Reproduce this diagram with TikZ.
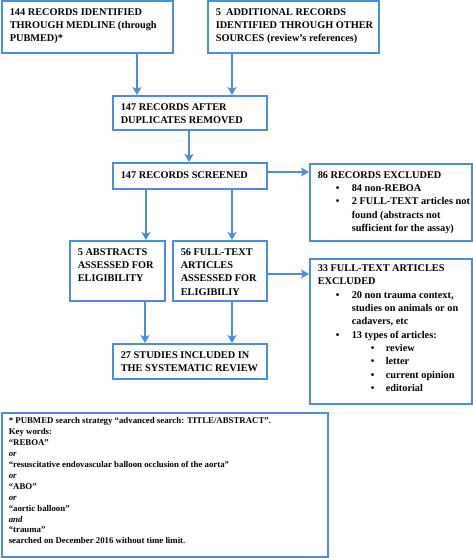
\documentclass[tikz,border=0pt]{standalone}
\usepackage{fontspec}
\setmainfont{Liberation Serif}
\usetikzlibrary{arrows.meta}
\definecolor{bl}{RGB}{74,140,226}
\newcommand\bx[4]{\makebox[#1][l]{\parbox[c][#2][t]{200pt}{\vspace*{#3}\raggedright\strut #4}}}
\newcommand\fx[4]{\makebox[#1][l]{\parbox[c][#2][t]{#1}{\vspace*{#3}\raggedright\strut #4}}}
\newcommand\bitem[1]{\par\hangindent=34pt\hangafter=1\noindent\makebox[34pt][l]{\hspace{18pt}\textbullet}#1}
\newcommand\sitem[1]{\par\hangindent=68pt\hangafter=1\noindent\makebox[68pt][l]{\hspace{53pt}\textbullet}#1}
\begin{document}
\begin{tikzpicture}[x=1pt,y=-1pt,
  box/.style={draw=bl, line width=1.6pt, inner xsep=8pt, inner ysep=0pt, anchor=north west,
    font=\bfseries\fontsize{10.3}{13.3}\selectfont},
  note/.style={draw=bl, line width=1.6pt, inner xsep=7pt, inner ysep=0pt, anchor=north west,
    font=\bfseries\fontsize{8.8}{10.95}\selectfont},
  arr/.style={draw=bl, line width=2.4pt, -{Stealth[length=8pt,width=9pt,inset=2pt]}}]
\useasboundingbox (0,0) rectangle (473,558);
\node[box] (b1) at (1,0) {\bx{155pt}{52pt}{5pt}{144 RECORDS IDENTIFIED\\THROUGH MEDLINE (through\\PUBMED)*}};
\node[box] (b2) at (207,0) {\bx{155pt}{52pt}{5pt}{5~ ADDITIONAL RECORDS\\IDENTIFIED THROUGH OTHER\\SOURCES (review’s references)}};
\node[box] (b3) at (112,95) {\bx{138pt}{34pt}{5pt}{147 RECORDS AFTER\\DUPLICATES REMOVED}};
\node[box] (b4) at (112,162) {\bx{138pt}{26pt}{6pt}{147 RECORDS SCREENED}};
\node[box] (b5) at (309,163) {\bx{146pt}{77pt}{5pt}{86 RECORDS EXCLUDED
  \bitem{84 non-REBOA}
  \bitem{2 FULL-TEXT articles not\newline found (abstracts not\newline sufficient for the assay)}}};
\node[box] (b6) at (69,240) {\bx{79pt}{60pt}{5pt}{5 ABSTRACTS\\ASSESSED FOR\\ELIGIBILITY}};
\node[box] (b7) at (172,240) {\bx{78pt}{60pt}{5pt}{56 FULL-TEXT\\ARTICLES\\ASSESSED FOR\\ELIGIBILIY}};
\node[box] (b8) at (309,258) {\bx{146pt}{145pt}{3.5pt}{33 FULL-TEXT ARTICLES\\EXCLUDED
  \bitem{20 non trauma context,\newline studies on animals or on\newline cadavers, etc}
  \bitem{13 types of articles:}
  \sitem{review}
  \sitem{letter}
  \sitem{current opinion}
  \sitem{editorial}}};
\node[box] (b9) at (112,343) {\bx{138pt}{35pt}{5pt}{27 STUDIES INCLUDED IN\\THE SYSTEMATIC REVIEW}};
\node[note] (b10) at (1,412) {\fx{312pt}{144pt}{3pt}{* PUBMED search strategy “advanced search: TITLE/ABSTRACT”.\\
Key words:\\
“REBOA”\\
\textit{or}\\
“resuscitative endovascular balloon occlusion of the aorta”\\
\textit{or}\\
“ABO”\\
\textit{or}\\
“aortic balloon”\\
\textit{and}\\
“trauma”\\
searched on December 2016 without time limit.}};
\draw[arr] (137,0 |- b1.south) -- (137,0 |- b3.north);
\draw[arr] (232,0 |- b2.south) -- (232,0 |- b3.north);
\draw[arr] (189,0 |- b3.south) -- (189,0 |- b4.north);
\draw[arr] (b4.east |- 0,172) -- (b5.west |- 0,172);
\draw[arr] (146,0 |- b4.south) -- (146,0 |- b6.north);
\draw[arr] (232,0 |- b4.south) -- (232,0 |- b7.north);
\draw[arr] (b7.east |- 0,274) -- (b8.west |- 0,274);
\draw[arr] (145,0 |- b6.south) -- (145,0 |- b9.north);
\draw[arr] (232,0 |- b7.south) -- (232,0 |- b9.north);
\end{tikzpicture}
\end{document}
